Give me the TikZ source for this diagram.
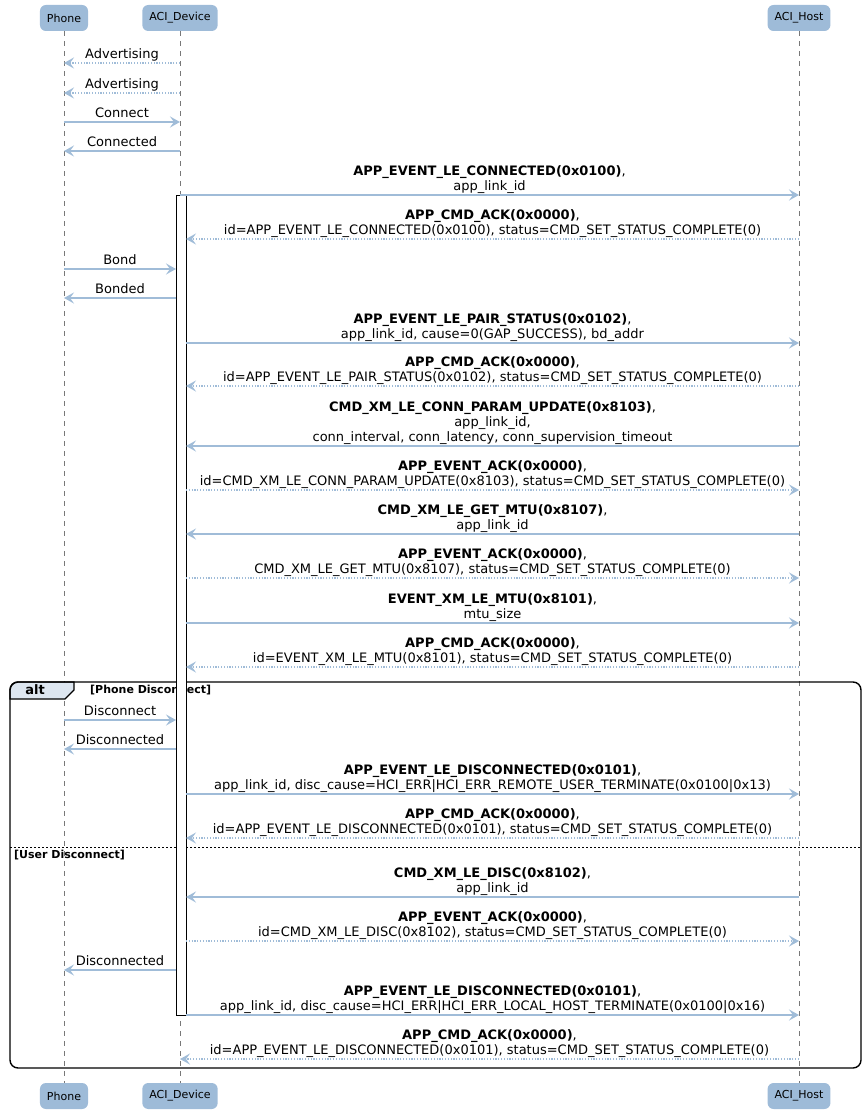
\documentclass[tikz,border=0pt]{standalone}
\usepackage{fontspec}
\setmainfont{DejaVu Sans}
\usetikzlibrary{arrows.meta}
\usetikzlibrary{positioning}
\definecolor{mline}{RGB}{160,188,216}
\definecolor{mpart}{RGB}{158,187,216}
\definecolor{mtab}{RGB}{221,230,240}
\definecolor{mlife}{RGB}{120,120,120}
\tikzset{
  part/.style = {fill=mpart, rounded corners=6, minimum height=26, inner xsep=7,
    font=\fontsize{11}{13}\selectfont},
  life/.style = {mlife, dash pattern=on 5 off 5, line width=0.7},
  sync/.style = {mline, line width=1.4, -{Stealth[length=10pt, width=11pt, inset=4pt]}},
  reply/.style = {sync, dash pattern=on 1.2 off 1.6},
  mlabel/.style = {anchor=south, inner sep=0, align=center, font=\fontsize{13}{15}\selectfont},
  grp/.style = {line width=1.4},
}
% one message: name, y, from x, to x, style, text
\newcommand{\msg}[6]{%
  \coordinate (#1a) at (#3, #2);
  \coordinate (#1b) at (#4, #2);
  \draw [#5] (#1a) -- (#1b);
  \node [mlabel] (#1l) at ({(#3+#4)/2}, #2) {#6\strut};
}

\begin{document}
\begin{tikzpicture}[x=1pt, y=-1pt]
    \useasboundingbox (0,0) rectangle (867,1115);

    % participants
    \node [part] (phone) at (64, 18) {Phone};
    \node [part] (dev) at (180, 18) {ACI\_Device};
    \node [part] (host) at (799, 18) {ACI\_Host};
    \node [part] (phoneb) at (64, 1096) {Phone};
    \node [part] (devb) at (180, 1096) {ACI\_Device};
    \node [part] (hostb) at (799, 1096) {ACI\_Host};

    \foreach \p in {phone, dev, host} {
      \draw [life] (\p) -- (\p b);
    }

    % alt group
    \filldraw [grp, fill=mtab] (10, 699) [rounded corners=8] -- (10, 682)
      [sharp corners] -- (74, 682) -- (74, 690) -- (65, 699) -- cycle;
    \draw [grp, rounded corners=8] (10, 682) rectangle (861, 1068);
    \node [font=\bfseries\fontsize{13}{15}\selectfont] (alt) at (35, 690) {alt};
    \node [font=\bfseries\fontsize{11}{13}\selectfont, anchor=west, inner sep=0]
      (g1) at (90, 690) {[Phone Disconnect]};
    \draw [dash pattern=on 2 off 2, line width=0.8] (10, 847) -- (861, 847);
    \node [font=\bfseries\fontsize{11}{13}\selectfont, anchor=west, inner sep=0]
      (g2) at (14, 855) {[User Disconnect]};

    % activation
    \draw [fill=white, line width=0.8] (176, 195) rectangle (186, 1015);

    \msg{m1}{63}{180}{64}{reply}{Advertising}
    \msg{m2}{93}{180}{64}{reply}{Advertising}
    \msg{m3}{122}{64}{180}{sync}{Connect}
    \msg{m4}{151}{180}{64}{sync}{Connected}
    \msg{m5}{195}{180}{799}{sync}{\textbf{APP\_EVENT\_LE\_CONNECTED(0x0100)},\\app\_link\_id}
    \msg{m6}{239}{799}{186}{reply}{\textbf{APP\_CMD\_ACK(0x0000)},\\id=APP\_EVENT\_LE\_CONNECTED(0x0100), status=CMD\_SET\_STATUS\_COMPLETE(0)}
    \msg{m7}{269}{64}{176}{sync}{Bond}
    \msg{m8}{298}{176}{64}{sync}{Bonded}
    \msg{m9}{343}{186}{799}{sync}{\textbf{APP\_EVENT\_LE\_PAIR\_STATUS(0x0102)},\\app\_link\_id, cause=0(GAP\_SUCCESS), bd\_addr}
    \msg{m10}{386}{799}{186}{reply}{\textbf{APP\_CMD\_ACK(0x0000)},\\id=APP\_EVENT\_LE\_PAIR\_STATUS(0x0102), status=CMD\_SET\_STATUS\_COMPLETE(0)}
    \msg{m11}{446}{799}{186}{sync}{\textbf{CMD\_XM\_LE\_CONN\_PARAM\_UPDATE(0x8103)},\\app\_link\_id,\\conn\_interval, conn\_latency, conn\_supervision\_timeout}
    \msg{m12}{490}{186}{799}{reply}{\textbf{APP\_EVENT\_ACK(0x0000)},\\id=CMD\_XM\_LE\_CONN\_PARAM\_UPDATE(0x8103), status=CMD\_SET\_STATUS\_COMPLETE(0)}
    \msg{m13}{534}{799}{186}{sync}{\textbf{CMD\_XM\_LE\_GET\_MTU(0x8107)},\\app\_link\_id}
    \msg{m14}{578}{186}{799}{reply}{\textbf{APP\_EVENT\_ACK(0x0000)},\\CMD\_XM\_LE\_GET\_MTU(0x8107), status=CMD\_SET\_STATUS\_COMPLETE(0)}
    \msg{m15}{623}{186}{799}{sync}{\textbf{EVENT\_XM\_LE\_MTU(0x8101)},\\mtu\_size}
    \msg{m16}{667}{799}{186}{reply}{\textbf{APP\_CMD\_ACK(0x0000)},\\id=EVENT\_XM\_LE\_MTU(0x8101), status=CMD\_SET\_STATUS\_COMPLETE(0)}
    \msg{m17}{720}{64}{176}{sync}{Disconnect}
    \msg{m18}{749}{176}{64}{sync}{Disconnected}
    \msg{m19}{794}{186}{799}{sync}{\textbf{APP\_EVENT\_LE\_DISCONNECTED(0x0101)},\\app\_link\_id, disc\_cause=HCI\_ERR|HCI\_ERR\_REMOTE\_USER\_TERMINATE(0x0100|0x13)}
    \msg{m20}{838}{799}{186}{reply}{\textbf{APP\_CMD\_ACK(0x0000)},\\id=APP\_EVENT\_LE\_DISCONNECTED(0x0101), status=CMD\_SET\_STATUS\_COMPLETE(0)}
    \msg{m21}{897}{799}{186}{sync}{\textbf{CMD\_XM\_LE\_DISC(0x8102)},\\app\_link\_id}
    \msg{m22}{941}{186}{799}{reply}{\textbf{APP\_EVENT\_ACK(0x0000)},\\id=CMD\_XM\_LE\_DISC(0x8102), status=CMD\_SET\_STATUS\_COMPLETE(0)}
    \msg{m23}{970}{176}{64}{sync}{Disconnected}
    \msg{m24}{1015}{186}{799}{sync}{\textbf{APP\_EVENT\_LE\_DISCONNECTED(0x0101)},\\app\_link\_id, disc\_cause=HCI\_ERR|HCI\_ERR\_LOCAL\_HOST\_TERMINATE(0x0100|0x16)}
    \msg{m25}{1059}{799}{180}{reply}{\textbf{APP\_CMD\_ACK(0x0000)},\\id=APP\_EVENT\_LE\_DISCONNECTED(0x0101), status=CMD\_SET\_STATUS\_COMPLETE(0)}
  \end{tikzpicture}
\end{document}
